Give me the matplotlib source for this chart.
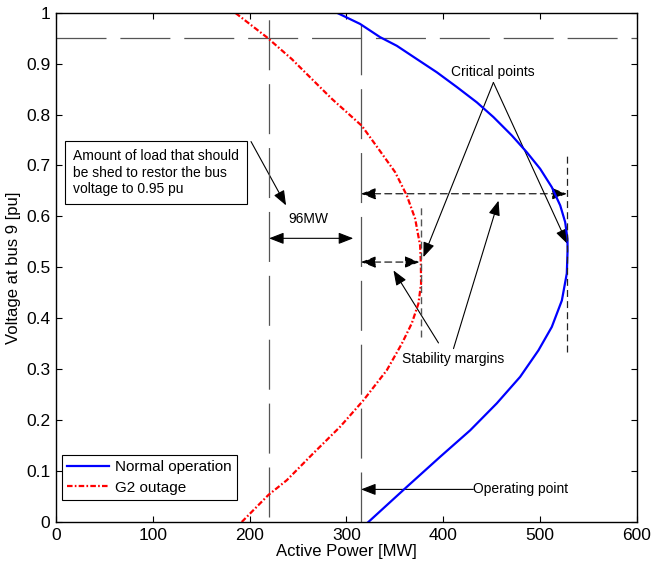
import matplotlib
matplotlib.use("Agg")
import matplotlib.pyplot as plt
from matplotlib.patches import FancyArrowPatch

plt.rcParams["font.family"] = ["Liberation Sans", "DejaVu Sans"]
plt.rcParams["lines.scale_dashes"] = False

# PV curve, normal operation (voltage [pu], active power [MW])
normal_v = [0.0, 0.069, 0.128, 0.180, 0.233, 0.285, 0.337, 0.383, 0.435, 0.488,
            0.533, 0.556, 0.589, 0.6216, 0.6575, 0.6935, 0.726, 0.759, 0.795, 0.824,
            0.854, 0.883, 0.909, 0.935, 0.952, 0.978, 1.0]
normal_p = [322.6, 362.3, 396.7, 427.7, 455.2, 479.3, 498.2, 512.0, 522.4, 527.5,
            528.3, 528.2, 525.8, 520.7, 512.0, 500.0, 486.2, 470.7, 451.8, 434.6,
            414.0, 393.3, 372.6, 352.0, 334.7, 314.0, 290.0]

# PV curve, G2 outage
outage_v = [0.0, 0.053, 0.082, 0.135, 0.187, 0.239, 0.298, 0.350, 0.390, 0.429,
            0.468, 0.507, 0.543, 0.5955, 0.641, 0.687, 0.7327, 0.778, 0.831, 0.870,
            0.909, 0.952, 1.0]
outage_p = [191.8, 219.3, 238.3, 265.8, 293.4, 317.5, 341.6, 357.1, 367.4, 374.3,
            377.0, 376.8, 376.0, 370.9, 362.3, 350.2, 333.0, 315.8, 284.8, 264.1,
            243.5, 217.6, 185.0]

series_labels = ["Normal operation", "G2 outage"]

# Reference levels
v_target = 0.95
p_shed_limit = 220.0
p_operating = 315.0
p_crit_outage = 376.5
p_crit_normal = 527.5
shed_amount_label = "96MW"

x_ticks = [0, 100, 200, 300, 400, 500, 600]
x_tick_labels = ["0", "100", "200", "300", "400", "500", "600"]
y_ticks = [0, 0.1, 0.2, 0.3, 0.4, 0.5, 0.6, 0.7, 0.8, 0.9, 1.0]
y_tick_labels = ["0", "0.1", "0.2", "0.3", "0.4", "0.5", "0.6", "0.7", "0.8", "0.9", "1"]

fig = plt.figure(figsize=(6.51, 5.65), dpi=100)
ax = fig.add_axes([0.086, 0.0761, 0.8925, 0.9014])

gray = "#555555"
ref_dash = (0, (36, 10))

# Reference lines
ax.plot([0, 600], [v_target, v_target], color=gray, lw=0.9, linestyle=ref_dash)
ax.plot([p_shed_limit, p_shed_limit], [0.01, 1.0], color=gray, lw=0.9, linestyle=ref_dash)
ax.plot([p_operating, p_operating], [0.0, 1.0], color=gray, lw=0.9, linestyle=ref_dash)

# Curves
ax.plot(normal_p, normal_v, color="#0000ff", lw=1.6, label=series_labels[0])
ax.plot(outage_p, outage_v, color="#ff0000", lw=1.6,
        linestyle=(0, (4, 1.6, 1.2, 1.6)), label=series_labels[1])

# Short dashed markers at the critical points
short_dash = (0, (5, 3))
ax.plot([p_crit_outage, p_crit_outage], [0.363, 0.622], color=gray, lw=1.0, linestyle=short_dash)
ax.plot([p_crit_normal, p_crit_normal], [0.334, 0.726], color="#222222", lw=0.9, linestyle=short_dash)


def arrow(p0, p1, style="-|>", ls="-", color="black", lw=0.8):
    a = FancyArrowPatch(p0, p1, arrowstyle=style + ",head_length=0.9,head_width=0.35",
                        mutation_scale=10, color=color, lw=lw, linestyle=ls,
                        shrinkA=0, shrinkB=0)
    ax.add_patch(a)


# Stability margin arrows
arrow((p_operating, 0.6445), (p_crit_normal, 0.6445), style="<|-|>", ls=(0, (5, 3)))
arrow((p_operating, 0.5104), (p_crit_outage - 1, 0.5104), style="<|-|>", ls=(0, (5, 3)))

# Load shedding arrow
arrow((p_shed_limit, 0.557), (307, 0.557), style="<|-|>")
ax.text(260.8, 0.594, shed_amount_label, ha="center", va="center", fontsize=10)

# Text box
ax.text(17.5, 0.686, "Amount of load that should\nbe shed to restor the bus\nvoltage to 0.95 pu",
        ha="left", va="center", fontsize=10, linespacing=1.2,
        bbox=dict(boxstyle="square,pad=0.6", fc="white", ec="black", lw=0.8))
arrow((201.4, 0.747), (237.6, 0.6216))

# Critical points annotation
ax.text(451, 0.883, "Critical points", ha="center", va="center", fontsize=10)
arrow((451.7, 0.863), (379.4, 0.520))
arrow((451.7, 0.863), (528.2, 0.546))

# Stability margins annotation
ax.text(410, 0.321, "Stability margins", ha="center", va="center", fontsize=10)
arrow((395, 0.3516), (348.5, 0.494))
arrow((410.5, 0.3405), (457, 0.631))

# Operating point annotation
ax.text(431, 0.064, "Operating point", ha="left", va="center", fontsize=10)
arrow((431, 0.064), (p_operating, 0.064))

ax.set_xlim(0, 600)
ax.set_ylim(0, 1)
ax.set_xticks(x_ticks)
ax.set_xticklabels(x_tick_labels)
ax.set_yticks(y_ticks)
ax.set_yticklabels(y_tick_labels)
ax.tick_params(direction="in", length=4, width=0.8, top=True, right=True,
               labelsize=12.5, pad=4)
for s in ax.spines.values():
    s.set_linewidth(1.0)

ax.set_xlabel("Active Power [MW]", fontsize=12, labelpad=1)
ax.set_ylabel("Voltage at bus 9 [pu]", fontsize=12, labelpad=4)

leg = ax.legend(loc="lower left", bbox_to_anchor=(0.0103, 0.043), borderaxespad=0,
                fontsize=11, handlelength=2.7, fancybox=False, framealpha=1,
                edgecolor="black", borderpad=0.35, labelspacing=0.42, handletextpad=0.4)
leg.get_frame().set_linewidth(0.8)

fig.savefig("out.png", dpi=100)
